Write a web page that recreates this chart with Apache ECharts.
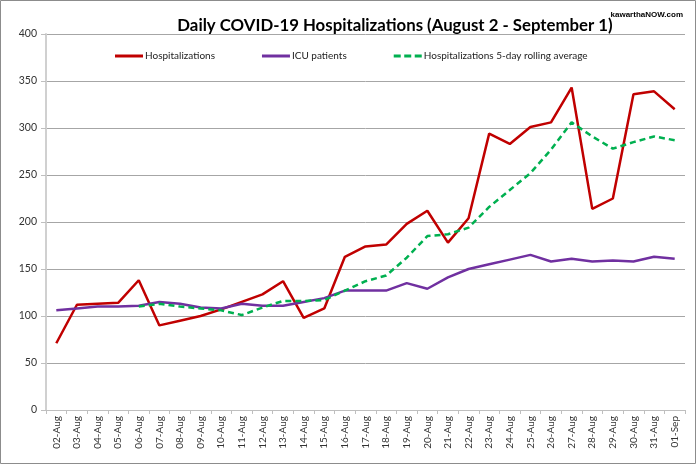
<!DOCTYPE html>
<html><head><meta charset="utf-8">
<script src="https://cdn.jsdelivr.net/npm/echarts@6/dist/echarts.min.js"></script>
<style>html,body{margin:0;padding:0;background:#fff}#c{width:696px;height:464px}</style>
</head><body><div id="c"></div>
<script>
const categories = ['02-Aug','03-Aug','04-Aug','05-Aug','06-Aug','07-Aug','08-Aug','09-Aug','10-Aug','11-Aug','12-Aug','13-Aug','14-Aug','15-Aug','16-Aug','17-Aug','18-Aug','19-Aug','20-Aug','21-Aug','22-Aug','23-Aug','24-Aug','25-Aug','26-Aug','27-Aug','28-Aug','29-Aug','30-Aug','31-Aug','01-Sep'];
const hospitalizations = [71,112,113,114,138,90,95,100,107,115,123,137,98,108,163,174,176,198,212,178,204,294,283,301,306,343,214,225,336,339,320];
const icuPatients = [106,108,110,110,111,115,113,109,108,113,111,111,115,119,127,127,127,135,129,141,150,155,160,165,158,161,158,159,158,163,161];
const rollingAverage = [null,null,null,null,110,113,110,108,106,101,109,116,116,117,127,137,143,162,185,187,194,216,234,252,277,306,291,278,285,291,287];
const yTicks = [0,50,100,150,200,250,300,350,400];

const solidIcon = 'path://M0,0L28,0L28,3L0,3Z';
const dashIcon = 'path://M0,0h7v3h-7z M10.5,0h7v3h-7z M21,0h7v3h-7z';

const chart = echarts.init(document.getElementById('c'), null, {renderer:'canvas'});
chart.setOption({
  animation:false,
  textStyle:{fontFamily:'Lato'},
  title:[{
    text:'Daily COVID-19 Hospitalizations (August 2 - September 1)',
    left:390, top:12, textAlign:'center',
    textStyle:{fontFamily:'Lato', fontSize:16.8, fontWeight:'bold', color:'#000'}
  },{
    text:'kawarthaNOW.com', right:8, top:6,
    textStyle:{fontFamily:'Liberation Sans', fontSize:8, fontWeight:'bold', color:'#000'}
  }],
  graphic:[{type:'rect', shape:{x:0.5,y:0.5,width:695,height:463}, style:{fill:'none', stroke:'#8c8c8c', lineWidth:1}, silent:true}],
  legend:{
    top:46, left:110, itemGap:47, itemWidth:28, itemHeight:3,
    textStyle:{fontSize:10, color:'#222', fontFamily:'Lato', padding:[0,0,0,-3]},
    data:[
      {name:'Hospitalizations', icon:solidIcon},
      {name:'ICU patients', icon:solidIcon},
      {name:'Hospitalizations 5-day rolling average', icon:dashIcon}
    ]
  },
  grid:{left:46, right:11, top:34, bottom:54},
  xAxis:{
    type:'category', data:categories, boundaryGap:true,
    axisLine:{lineStyle:{color:'#bfbfbf', width:1}},
    axisTick:{show:true, alignWithLabel:false, lineStyle:{color:'#bfbfbf'}, length:4},
    axisLabel:{rotate:90, fontSize:10, color:'#333', margin:6, interval:0}
  },
  yAxis:{
    type:'value', min:0, max:400, interval:50,
    axisLine:{show:true, lineStyle:{color:'#d0d0d0', width:2}},
    axisTick:{show:true, length:5, lineStyle:{color:'#bfbfbf'}},
    axisLabel:{fontSize:10.5, color:'#333', margin:9},
    splitLine:{lineStyle:{color:'#a6a6a6', width:1}}
  },
  series:[
    {name:'Hospitalizations', type:'line', data:hospitalizations, symbol:'none', color:'#c00000', lineStyle:{width:2.5, color:'#c00000'}},
    {name:'ICU patients', type:'line', data:icuPatients, symbol:'none', color:'#7030a0', lineStyle:{width:2.5, color:'#7030a0'}},
    {name:'Hospitalizations 5-day rolling average', type:'line', data:rollingAverage, symbol:'none', color:'#00b050', lineStyle:{width:2.5, type:[6,4], color:'#00b050'}}
  ]
});
</script></body></html>
